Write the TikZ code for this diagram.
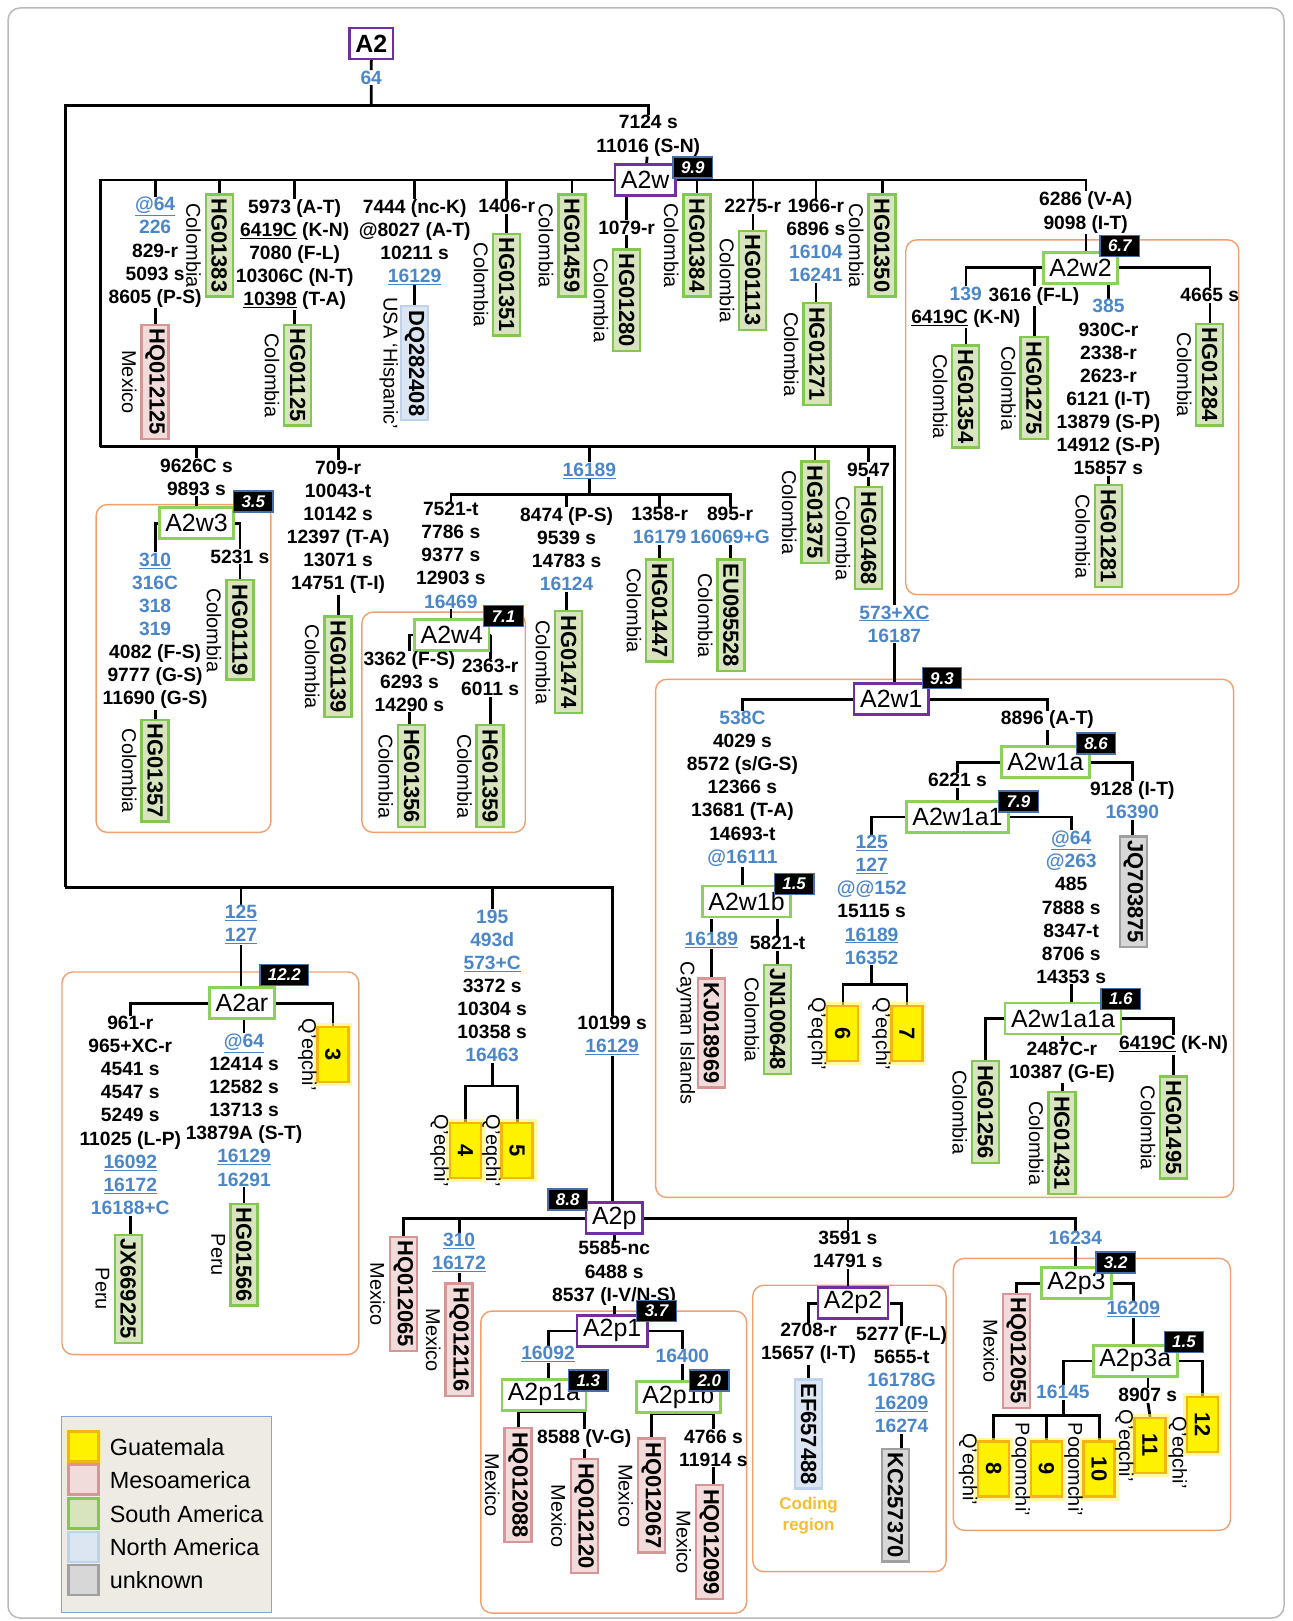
\documentclass[tikz,border=0pt]{standalone}
\usepackage{fontspec}
\setmainfont{Liberation Sans}
\usetikzlibrary{calc}
\definecolor{mbl}{RGB}{74,134,200}
\definecolor{sgr}{RGB}{130,200,80}
\definecolor{sgrF}{RGB}{216,228,190}
\definecolor{mrd}{RGB}{215,150,150}
\definecolor{mrdF}{RGB}{242,220,219}
\definecolor{nbl}{RGB}{190,210,235}
\definecolor{nblF}{RGB}{220,230,242}
\definecolor{ugr}{RGB}{160,160,160}
\definecolor{ugrF}{RGB}{215,215,215}
\definecolor{yor}{RGB}{245,180,20}
\definecolor{cpu}{RGB}{112,48,160}
\definecolor{cgr}{RGB}{140,210,90}
\definecolor{bbl}{RGB}{70,110,170}
\definecolor{gor}{RGB}{240,160,110}
\definecolor{gold}{RGB}{245,190,50}
\definecolor{lgbg}{RGB}{237,235,227}
\definecolor{lgbd}{RGB}{130,165,210}
\newcommand{\fmut}{\fontsize{19.3}{23.2}\selectfont\bfseries}
\newcommand{\fleaf}{\fontsize{22}{24}\selectfont\bfseries}
\newcommand{\fctry}{\fontsize{20}{22}\selectfont}
\newcommand{\fclade}{\fontsize{25}{27}\selectfont}
\newcommand{\fbadge}{\fontsize{17}{19}\selectfont\bfseries\itshape}
\newcommand{\fleg}{\fontsize{23.5}{26}\selectfont}
\newcommand{\blu}[1]{\textcolor{mbl}{#1}}
\newcommand{\blul}[1]{\textcolor{mbl}{\underline{#1}}}
\newcommand{\undl}[1]{\underline{#1}}
\newcommand{\leafc}[6]{\node[#2,anchor=west] (#1) at (#3,#4) {#5};\node[ctry] (#1c) at ([xshift=-25bp]#1.center) {#6};}
\newcommand{\leafn}[5]{\node[#2,anchor=west] (#1) at (#3,#4) {#5};}
\pgfdeclarelayer{bg}
\pgfsetlayers{bg,main}
\begin{document}
\begin{tikzpicture}[x=1bp,y=-1bp,
 mut/.style={font=\fmut, align=center, inner sep=0.5bp, anchor=north},
 leafbase/.style={rotate=-90, font=\fleaf, draw, line width=2.4bp, inner xsep=4bp, inner ysep=2.5bp, minimum height=27bp},
 leafG/.style={leafbase, draw=sgr, fill=sgrF},
 leafR/.style={leafbase, draw=mrd, fill=mrdF},
 leafB/.style={leafbase, draw=nbl, fill=nblF},
 leafU/.style={leafbase, draw=ugr, fill=ugrF},
 leafY/.style={leafbase, draw=yor, fill=yellow, minimum width=55bp, minimum height=31bp, preaction={draw=yellow!60, line width=8bp, opacity=0.6}},
 ctry/.style={rotate=-90, font=\fctry, inner sep=0pt},
 cladeP/.style={draw=cpu, line width=2.6bp, fill=white, font=\fclade, inner xsep=6bp, inner ysep=1bp, minimum height=31bp},
 cladeG/.style={cladeP, draw=cgr},
 badge/.style={fill=black, draw=bbl, line width=1.3bp, text=white, font=\fbadge, inner xsep=8bp, inner ysep=1bp, minimum height=21bp},
 grp/.style={draw=gor, line width=1.4bp, rounded corners=11bp},
 tree/.style={line width=2.8bp, black},
 legsq/.style={minimum size=30bp, line width=2.6bp, inner sep=0pt}
]
\useasboundingbox (0,0) rectangle (1292,1621);
\draw[gray!55, line width=1.5bp, rounded corners=12bp] (8,8) rectangle (1284,1618);
\begin{scope}[scale=1.034]
% ---------------- top ----------------
\node[cladeP] (A2) at (359,42) {\bfseries A2};
\node[mut,anchor=center] (m64) at (359,75) {\blu{64}};
\coordinate (j0) at (359,102);
\coordinate (jL) at (63,858);
\node[mut] (m7124) at (627,111) {7124 s\\11016 (S-N)};
\node[cladeP] (A2w) at (624,174) {A2w};
\node[badge] at (670,162) {9.9};

% A2w children
\node[mut] (wa) at (150,190) {\blul{@64}\\\blu{226}\\829-r\\5093 s\\8605 (P-S)};
\leafc{HQ012125}{leafR}{150}{313}{HQ012125}{Mexico}
\leafc{HG01383}{leafG}{212}{187}{HG01383}{Colombia}
\node[mut] (wb) at (285,192) {5973 (A-T)\\\undl{6419C} (K-N)\\7080 (F-L)\\10306C (N-T)\\\undl{10398} (T-A)};
\leafc{HG01125}{leafG}{288}{313}{HG01125}{Colombia}
\node[mut] (wc) at (401,192) {7444 (nc-K)\\@8027 (A-T)\\10211 s\\\blul{16129}};
\leafc{DQ282408}{leafB}{401}{295}{DQ282408}{USA ‘Hispanic’}
\node[mut] (wd) at (490,192) {1406-r};
\leafc{HG01351}{leafG}{490}{225}{HG01351}{Colombia}
\leafc{HG01459}{leafG}{553}{187}{HG01459}{Colombia}
\node[mut] (we) at (606,213) {1079-r};
\leafc{HG01280}{leafG}{606}{240}{HG01280}{Colombia}
\leafc{HG01384}{leafG}{674}{187}{HG01384}{Colombia}
\node[mut] (wf) at (728,192) {2275-r};
\leafc{HG01113}{leafG}{728}{222}{HG01113}{Colombia}
\node[mut] (wg) at (789,192) {1966-r\\6896 s\\\blu{16104}\\\blu{16241}};
\leafc{HG01271}{leafG}{790}{292}{HG01271}{Colombia}
\leafc{HG01350}{leafG}{853}{187}{HG01350}{Colombia}
\node[mut] (wh) at (1050,185) {6286 (V-A)\\9098 (I-T)};

% A2w2
\node[cladeG] (A2w2) at (1045,259) {A2w2};
\node[badge] at (1083,238) {6.7};
\node[mut] (w2a) at (934,277) {\blu{139}\\\undl{6419C} (K-N)};
\leafc{HG01354}{leafG}{934}{333}{HG01354}{Colombia}
\node[mut] (w2b) at (1000,277) {3616 (F-L)};
\leafc{HG01275}{leafG}{1000}{325}{HG01275}{Colombia}
\node[mut] (w2c) at (1072,289) {\blu{385}\\930C-r\\2338-r\\2623-r\\6121 (I-T)\\13879 (S-P)\\14912 (S-P)\\15857 s};
\leafc{HG01281}{leafG}{1072}{468}{HG01281}{Colombia}
\node[mut] (w2d) at (1170,278) {4665 s};
\leafc{HG01284}{leafG}{1170}{312}{HG01284}{Colombia}

% ---------------- row 2 ----------------
\coordinate (j2) at (97,432);
\node[mut] (r2a) at (190,443) {9626C s\\9893 s};
\node[cladeG] (A2w3) at (190,506) {A2w3};
\node[badge] at (245,485) {3.5};
\node[mut] (w3a) at (150,534) {\blul{310}\\\blu{316C}\\\blu{318}\\\blu{319}\\4082 (F-S)\\9777 (G-S)\\11690 (G-S)};
\leafc{HG01357}{leafG}{150}{695}{HG01357}{Colombia}
\node[mut] (w3b) at (232,531) {5231 s};
\leafc{HG01119}{leafG}{232}{560}{HG01119}{Colombia}
\node[mut] (r2b) at (327,445) {709-r\\10043-t\\10142 s\\12397 (T-A)\\13071 s\\14751 (T-I)};
\leafc{HG01139}{leafG}{327}{595}{HG01139}{Colombia}
\node[mut] (r2c) at (570,447) {\blul{16189}};
\coordinate (j3) at (570,478);
\node[mut] (r3a) at (436,485) {7521-t\\7786 s\\9377 s\\12903 s\\\blu{16469}};
\node[cladeG] (A2w4) at (437,614) {A2w4};
\node[badge] at (487,596) {7.1};
\node[mut] (w4a) at (396,629) {3362 (F-S)\\6293 s\\14290 s};
\leafc{HG01356}{leafG}{398}{700}{HG01356}{Colombia}
\node[mut] (w4b) at (474,637) {2363-r\\6011 s};
\leafc{HG01359}{leafG}{474}{700}{HG01359}{Colombia}
\node[mut] (r3b) at (548,490) {8474 (P-S)\\9539 s\\14783 s\\\blu{16124}};
\leafc{HG01474}{leafG}{550}{590}{HG01474}{Colombia}
\node[mut] (r3c) at (638,490) {1358-r\\\blu{16179}};
\leafc{HG01447}{leafG}{638}{540}{HG01447}{Colombia}
\node[mut] (r3d) at (706,490) {895-r\\\blu{16069+G}};
\leafc{EU095528}{leafG}{707}{540}{EU095528}{Colombia}
\leafc{HG01375}{leafG}{788}{445}{HG01375}{Colombia}
\node[mut] (r2e) at (840,447) {9547};
\leafc{HG01468}{leafG}{840}{470}{HG01468}{Colombia}
\node[mut] (m573) at (865,585) {\blul{573+XC}\\\blu{16187}};

% ---------------- A2w1 ----------------
\node[cladeP] (A2w1) at (862,676) {A2w1};
\node[badge] at (911,656) {9.3};
\node[mut] (k1) at (718,687) {\blu{538C}\\4029 s\\8572 (s/G-S)\\12366 s\\13681 (T-A)\\14693-t\\\blu{@16111}};
\node[cladeG] (A2w1b) at (722,872) {A2w1b};
\node[badge] at (768,855) {1.5};
\node[mut] (k1a) at (688,901) {\blul{16189}};
\leafc{KJ018969}{leafR}{688}{945}{KJ018969}{Cayman Islands}
\node[mut] (k1b) at (752,905) {5821-t};
\leafc{JN100648}{leafG}{752}{932}{JN100648}{Colombia}
\node[mut] (k2) at (1013,687) {8896 (A-T)};
\node[cladeG] (A2w1a) at (1011,737) {A2w1a};
\node[badge] at (1060,719) {8.6};
\node[mut] (k2a) at (926,747) {6221 s};
\node[cladeG] (A2w1a1) at (926,790) {A2w1a1};
\node[badge] at (985,775) {7.9};
\node[mut] (k3a) at (843,807) {\blul{125}\\\blul{127}\\\blu{@@152}\\15115 s\\\blul{16189}\\\blu{16352}};
\coordinate (j4) at (843,952);
\leafc{Y6}{leafY}{815}{972}{6}{Q'eqchi'}
\leafc{Y7}{leafY}{877}{972}{7}{Q'eqchi'}
\node[mut] (k3b) at (1036,803) {\blul{@64}\\\blu{@263}\\485\\7888 s\\8347-t\\8706 s\\14353 s};
\node[cladeG] (A2w1a1a) at (1028,985) {A2w1a1a};
\node[badge] at (1084,966) {1.6};
\leafc{HG01256}{leafG}{953}{1025}{HG01256}{Colombia}
\node[mut] (k4a) at (1027,1007) {2487C-r\\10387 (G-E)};
\leafc{HG01431}{leafG}{1027}{1055}{HG01431}{Colombia}
\node[mut] (k4b) at (1135,1001) {\undl{6419C} (K-N)};
\leafc{HG01495}{leafG}{1135}{1040}{HG01495}{Colombia}
\node[mut] (k2b) at (1095,755) {9128 (I-T)\\\blu{16390}};
\leafn{JQ703875}{leafU}{1096}{808}{JQ703875}

% ---------------- bottom-left ----------------
\node[mut] (b1) at (233,875) {\blul{125}\\\blul{127}};
\node[cladeG] (A2ar) at (234,970) {A2ar};
\node[badge] at (275,943) {12.2};
\node[mut] (b1a) at (126,982) {961-r\\965+XC-r\\4541 s\\4547 s\\5249 s\\11025 (L-P)\\\blul{16092}\\\blul{16172}\\\blu{16188+C}};
\leafc{JX669225}{leafG}{124}{1193}{JX669225}{Peru}
\node[mut] (b1b) at (236,999) {\blul{@64}\\12414 s\\12582 s\\13713 s\\13879A (S-T)\\\blul{16129}\\\blu{16291}};
\leafc{HG01566}{leafG}{236}{1163}{HG01566}{Peru}
\leafc{Y3}{leafY}{322}{992}{3}{Q'eqchi'}
\node[mut] (b2) at (476,879) {\blu{195}\\\blu{493d}\\\blul{573+C}\\3372 s\\10304 s\\10358 s\\\blu{16463}};
\coordinate (j5) at (476,1050);
\leafc{Y4}{leafY}{450}{1085}{4}{Q'eqchi'}
\leafc{Y5}{leafY}{500}{1085}{5}{Q'eqchi'}
\node[mut] (m10199) at (592,982) {10199 s\\\blul{16129}};

% ---------------- A2p ----------------
\node[cladeP] (A2p) at (594,1178) {A2p};
\node[badge] at (549,1160) {8.8};
\leafc{HQ012065}{leafR}{390}{1195}{HQ012065}{Mexico}
\node[mut] (p1) at (444,1192) {\blul{310}\\\blul{16172}};
\leafc{HQ012116}{leafR}{444}{1240}{HQ012116}{Mexico}
\node[mut] (p2) at (594,1200) {5585-nc\\6488 s\\8537 (I-V/N-S)};
\node[cladeP] (A2p1) at (592,1287) {A2p1};
\node[badge] at (635,1268) {3.7};
\node[mut] (p2a) at (530,1301) {\blul{16092}};
\node[cladeG] (A2p1a) at (526,1349) {A2p1a};
\node[badge] at (569,1335) {1.3};
\leafc{HQ012088}{leafR}{501}{1380}{HQ012088}{Mexico}
\node[mut] (p3) at (565,1382) {8588 (V-G)};
\leafc{HQ012120}{leafR}{565}{1410}{HQ012120}{Mexico}
\node[mut] (p2b) at (660,1304) {\blu{16400}};
\node[cladeG] (A2p1b) at (656,1351) {A2p1b};
\node[badge] at (686,1335) {2.0};
\leafc{HQ012067}{leafR}{630}{1390}{HQ012067}{Mexico}
\node[mut] (p4) at (690,1382) {4766 s\\11914 s};
\leafc{HQ012099}{leafR}{686}{1435}{HQ012099}{Mexico}
\node[mut] (p5) at (820,1190) {3591 s\\14791 s};
\node[cladeP] (A2p2) at (825,1260) {A2p2};
\node[mut] (p5a) at (782,1279) {2708-r\\15657 (I-T)};
\leafn{EF657488}{leafB}{782}{1333}{EF657488}
\node[font=\fontsize{17}{21}\selectfont\bfseries, text=gold, align=center] (coding) at (782,1466) {Coding\\region};
\node[mut] (p5b) at (872,1282) {5277 (F-L)\\5655-t\\\blu{16178G}\\\blul{16209}\\\blu{16274}};
\leafn{KC257370}{leafU}{866}{1400}{KC257370}
\node[mut] (p6) at (1040,1190) {\blu{16234}};
\node[cladeG] (A2p3) at (1041,1241) {A2p3};
\node[badge] at (1079,1221) {3.2};
\leafc{HQ012055}{leafR}{983}{1250}{HQ012055}{Mexico}
\node[mut] (p6a) at (1096,1258) {\blul{16209}};
\node[cladeG] (A2p3a) at (1098,1316) {A2p3a};
\node[badge] at (1145,1298) {1.5};
\node[mut] (p7) at (1028,1339) {\blu{16145}};
\coordinate (j6) at (1028,1369);
\leafc{Y8}{leafY}{961}{1393}{8}{Q'eqchi'}
\leafc{Y9}{leafY}{1012}{1393}{9}{Poqomchi'}
\leafc{Y10}{leafY}{1063}{1393}{10}{Poqomchi'}
\node[mut] (p8) at (1110,1342) {8907 s};
\leafc{Y11}{leafY}{1112}{1370}{11}{Q'eqchi'}
\leafn{Y12}{leafY}{1163}{1350}{12}
\node[ctry] (Y12c) at (1139,1405) {Q'eqchi'};

% ---------------- legend ----------------
\node[draw=lgbd, fill=lgbg, line width=1.3bp, minimum width=210bp, minimum height=196bp, inner sep=0pt] (legend) at (161,1465) {};
\node[legsq, draw=yor, fill=yellow, preaction={draw=yellow!60, line width=6bp, opacity=0.6}] (lq1) at (81,1399) {};
\node[anchor=west, font=\fleg] (lt1) at ([xshift=6bp]lq1.east) {Guatemala};
\node[legsq, draw=mrd, fill=mrdF] (lq2) at (81,1431) {};
\node[anchor=west, font=\fleg] (lt2) at ([xshift=6bp]lq2.east) {Mesoamerica};
\node[legsq, draw=sgr, fill=sgrF] (lq3) at (81,1464) {};
\node[anchor=west, font=\fleg] (lt3) at ([xshift=6bp]lq3.east) {South America};
\node[legsq, draw=nbl, fill=nblF] (lq4) at (81,1496) {};
\node[anchor=west, font=\fleg] (lt4) at ([xshift=6bp]lq4.east) {North America};
\node[legsq, draw=ugr, fill=ugrF] (lq5) at (81,1528) {};
\node[anchor=west, font=\fleg] (lt5) at ([xshift=6bp]lq5.east) {unknown};

% ---------------- connectors ----------------
\begin{pgfonlayer}{bg}
\draw[grp] (876,232) rectangle (1198,575);
\draw[grp] (93,488) rectangle (262,805);
\draw[grp] (350,592) rectangle (508,805);
\draw[grp] (634,657) rectangle (1193,1158);
\draw[grp] (60,940) rectangle (347,1310);
\draw[grp] (465,1268) rectangle (722,1560);
\draw[grp] (728,1243) rectangle (915,1520);
\draw[grp] (922,1217) rectangle (1190,1480);

\draw[tree] (A2) -- (m64);
\draw[tree] (m64) -- (j0);
\draw[tree] (j0) -| (m7124.north);
\draw[tree] (j0) -| (jL);
\draw[tree] (m7124) -- (A2w);
% A2w
\draw[tree] (A2w.west) -| (wa.north);
\draw[tree] (wa.south) -- (HQ012125.west);
\draw[tree] (A2w.west) -| (HG01383.west);
\draw[tree] (A2w.west) -| (wb.north);
\draw[tree] (wb.south) -- (wb.south |- HG01125.west);
\draw[tree] (A2w.west) -| (wc.north);
\draw[tree] (wc.south) -- (DQ282408.west);
\draw[tree] (A2w.west) -| (wd.north);
\draw[tree] (wd.south) -- (HG01351.west);
\draw[tree] (A2w.west) -| (HG01459.west);
\draw[tree] (we.north) -- (we.north |- A2w.south);
\draw[tree] (we.south) -- (HG01280.west);
\draw[tree] (A2w.east) -| (HG01384.west);
\draw[tree] (A2w.east) -| (wf.north);
\draw[tree] (wf.south) -- (HG01113.west);
\draw[tree] (A2w.east) -| (wg.north);
\draw[tree] (wg.south) -- (wg.south |- HG01271.west);
\draw[tree] (A2w.east) -| (HG01350.west);
\draw[tree] (A2w.east) -| (wh.north);
\draw[tree] (wh.south) -- (wh.south |- A2w2.north);
% A2w2
\draw[tree] (A2w2.west) -| (w2a.north);
\draw[tree] (w2a.south) -- (HG01354.west);
\draw[tree] (A2w2.west) -| (w2b.north);
\draw[tree] (w2b.south) -- (HG01275.west);
\draw[tree] (w2c.north) -- (w2c.north |- A2w2.south);
\draw[tree] (w2c.south) -- (HG01281.west);
\draw[tree] (A2w2.east) -| (w2d.north);
\draw[tree] (w2d.south) -- (HG01284.west);
% row 2
\draw[tree] (A2w.west) -| (j2);
\draw[tree] (j2) -| (r2a.north);
\draw[tree] (r2a.south) -- (A2w3.north);
\draw[tree] (A2w3.west) -| (w3a.north);
\draw[tree] (w3a.south) -- (HG01357.west);
\draw[tree] (A2w3.east) -| (w3b.north);
\draw[tree] (w3b.south) -- (HG01119.west);
\draw[tree] (j2) -| (r2b.north);
\draw[tree] (r2b.south) -- (HG01139.west);
\draw[tree] (j2) -| (r2c.north);
\draw[tree] (r2c.south) -- (j3);
\draw[tree] (j3) -| (r3a.north);
\draw[tree] (r3a.south) -- (A2w4.north -| r3a.south);
\draw[tree] (A2w4.west) -| (w4a.north);
\draw[tree] (w4a.south) -- (w4a.south |- HG01356.west);
\draw[tree] (A2w4.east) -| (w4b.north);
\draw[tree] (w4b.south) -- (HG01359.west);
\draw[tree] (j3) -| (r3b.north);
\draw[tree] (r3b.south) -- (r3b.south |- HG01474.west);
\draw[tree] (j3) -| (r3c.north);
\draw[tree] (r3c.south) -- (HG01447.west);
\draw[tree] (j3) -| (r3d.north);
\draw[tree] (r3d.south) -- (r3d.south |- EU095528.west);
\draw[tree] (j2) -| (HG01375.west);
\draw[tree] (j2) -| (r2e.north);
\draw[tree] (r2e.south) -- (HG01468.west);
\draw[tree] (j2) -| (m573.north);
\draw[tree] (m573.south) -- (m573.south |- A2w1.north);
% A2w1
\draw[tree] (A2w1.west) -| (k1.north);
\draw[tree] (k1.south) -- (k1.south |- A2w1b.north);
\draw[tree] (k1a.north) -- (k1a.north |- A2w1b.south);
\draw[tree] (k1a.south) -- (KJ018969.west);
\draw[tree] (k1b.north) -- (k1b.north |- A2w1b.south);
\draw[tree] (k1b.south) -- (JN100648.west);
\draw[tree] (A2w1.east) -| (k2.north);
\draw[tree] (k2.south) -- (k2.south |- A2w1a.north);
\draw[tree] (A2w1a.west) -| (k2a.north);
\draw[tree] (k2a.south) -- (k2a.south |- A2w1a1.north);
\draw[tree] (A2w1a1.west) -| (k3a.north);
\draw[tree] (k3a.south) -- (j4);
\draw[tree] (j4) -| (Y6.west);
\draw[tree] (j4) -| (Y7.west);
\draw[tree] (A2w1a1.east) -| (k3b.north);
\draw[tree] (k3b.south) -- (k3b.south |- A2w1a1a.north);
\draw[tree] (A2w1a1a.west) -| (HG01256.west);
\draw[tree] (k4a.north) -- (k4a.north |- A2w1a1a.south);
\draw[tree] (k4a.south) -- (HG01431.west);
\draw[tree] (A2w1a1a.east) -| (k4b.north);
\draw[tree] (k4b.south) -- (HG01495.west);
\draw[tree] (A2w1a.east) -| (k2b.north);
\draw[tree] (k2b.south) -- (k2b.south |- JQ703875.west);
% bottom-left
\draw[tree] (jL) -| (m10199.north);
\draw[tree] (jL) -| (b1.north);
\draw[tree] (b1.south) -- (b1.south |- A2ar.north);
\draw[tree] (A2ar.west) -| (b1a.north);
\draw[tree] (b1a.south) -- (b1a.south |- JX669225.west);
\draw[tree] (b1b.north) -- (b1b.north |- A2ar.south);
\draw[tree] (b1b.south) -- (HG01566.west);
\draw[tree] (A2ar.east) -| (Y3.west);
\draw[tree] (jL) -| (b2.north);
\draw[tree] (b2.south) -- (j5);
\draw[tree] (j5) -| (Y4.west);
\draw[tree] (j5) -| (Y5.west);
\draw[tree] (m10199.south) -- (m10199.south |- A2p.north);
% A2p
\draw[tree] (A2p.west) -| (HQ012065.west);
\draw[tree] (A2p.west) -| (p1.north);
\draw[tree] (p1.south) -- (HQ012116.west);
\draw[tree] (p2.north) -- (p2.north |- A2p.south);
\draw[tree] (p2.south) -- (p2.south |- A2p1.north);
\draw[tree] (A2p1.west) -| (p2a.north);
\draw[tree] (p2a.south) -- (p2a.south |- A2p1a.north);
\draw[tree] (HQ012088.west) -- (HQ012088.west |- A2p1a.south);
\draw[tree] (A2p1a.south -| HQ012088.west) -- (A2p1a.south -| p3.north);
\draw[tree] (p3.north) -- (p3.north |- A2p1a.south);
\draw[tree] (p3.south) -- (HQ012120.west);
\draw[tree] (A2p1.east) -| (p2b.north);
\draw[tree] (p2b.south) -- (p2b.south |- A2p1b.north);
\draw[tree] (HQ012067.west) -- (HQ012067.west |- A2p1b.south);
\draw[tree] (A2p1b.south -| HQ012067.west) -- (A2p1b.south -| p4.north);
\draw[tree] (p4.north) -- (p4.north |- A2p1b.south);
\draw[tree] (p4.south) -- (p4.south |- HQ012099.west);
\draw[tree] (A2p.east) -| (p5.north);
\draw[tree] (p5.south) -- (p5.south |- A2p2.north);
\draw[tree] (A2p2.west) -| (p5a.north);
\draw[tree] (p5a.south) -- (EF657488.west);
\draw[tree] (A2p2.east) -| (p5b.north);
\draw[tree] (p5b.south) -- (p5b.south |- KC257370.west);
\draw[tree] (A2p.east) -| (p6.north);
\draw[tree] (p6.south) -- (p6.south |- A2p3.north);
\draw[tree] (A2p3.west) -| (HQ012055.west);
\draw[tree] (A2p3.east) -| (p6a.north);
\draw[tree] (p6a.south) -- (p6a.south |- A2p3a.north);
\draw[tree] (A2p3a.west) -| (p7.north);
\draw[tree] (p7.south) -- (j6);
\draw[tree] (j6) -| (Y8.west);
\draw[tree] (j6) -| (Y9.west);
\draw[tree] (j6) -| (Y10.west);
\draw[tree] (p8.north) -- (p8.north |- A2p3a.south);
\draw[tree] (p8.south) -- (Y11.west);
\draw[tree] (A2p3a.east) -| (Y12.west);
\end{pgfonlayer}
\end{scope}
\end{tikzpicture}
\end{document}
